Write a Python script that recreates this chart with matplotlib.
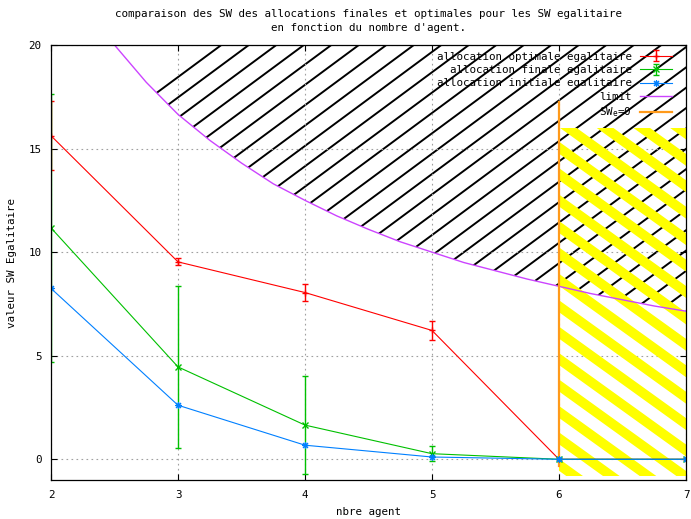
import matplotlib.pyplot as plt
from matplotlib.collections import LineCollection
from matplotlib.transforms import IdentityTransform

plt.rcParams['font.family'] = ['DejaVu Sans Mono']
plt.rcParams['font.size'] = 7.8
plt.rcParams['mathtext.default'] = 'regular'

# donnees
agents = [2, 3, 4, 5, 6, 7]
opt_sw = [15.62, 9.53, 8.05, 6.22, 0, 0]
opt_err = [1.67, 0.17, 0.39, 0.45, 0, 0]
fin_sw = [11.17, 4.46, 1.65, 0.27, 0, 0]
fin_err = [6.47, 3.9, 2.37, 0.37, 0, 0]
init_sw = [8.25, 2.61, 0.68, 0.11, 0, 0]

limit_x = [2.5, 2.75, 3, 3.25, 3.5, 3.75, 4, 4.25, 4.5, 4.75, 5,
           5.25, 5.5, 5.75, 6, 6.25, 6.5, 6.75, 7]
limit_y = [20, 18.2, 16.65, 15.4, 14.3, 13.3, 12.5, 11.75, 11.1, 10.5, 10.0,
           9.5, 9.1, 8.7, 8.35, 8.0, 7.7, 7.4, 7.15]
sw0_x = [6, 6]
sw0_y = [-0.3, 17.25]
zone_x = [6, 7]
zone_y = [-0.8, 16]


def hatch(ax, coll, x0, y0, slope, step, color, lw, z, kmin=-80):
    # lignes en pixels, decoupees par la zone remplie
    segs = []
    for k in range(kmin, 80):
        xa = x0 + k * step
        segs.append([(xa - 1000, y0 - slope * 1000), (xa + 1000, y0 + slope * 1000)])
    lc = LineCollection(segs, colors=color, linewidths=lw, transform=IdentityTransform(),
                        zorder=z)
    lc.set_clip_path(coll.get_paths()[0], coll.get_transform())
    ax.add_collection(lc, autolim=False)


fig = plt.figure(figsize=(6.91, 5.19), dpi=100)
ax = fig.add_axes([51 / 691, 39 / 519, 635 / 691, 435 / 519])
ax.set_xlim(2, 7)
ax.set_ylim(-1, 20)

black_zone = ax.fill_between(limit_x, limit_y, 20, facecolor='none', edgecolor='none')
yellow_zone = ax.fill_between(zone_x, zone_y[0], zone_y[1], facecolor='none', edgecolor='none')
hatch(ax, black_zone, 220, 519 - 46, 0.74, 27.5, 'black', 1.4, 1.5, kmin=0)
hatch(ax, yellow_zone, 567, 519 - 127, -0.72, 36.7, '#ffff00', 7.0, 1.6)

e1 = ax.errorbar(agents, opt_sw, yerr=opt_err, color='#ff0000', lw=0.8, elinewidth=1.0,
                 capsize=2.5, marker='+', ms=5, label='allocation optimale egalitaire', zorder=3)
e2 = ax.errorbar(agents, fin_sw, yerr=fin_err, color='#00c000', lw=0.8, elinewidth=1.0,
                 capsize=2.5, marker='x', ms=4, label='allocation finale egalitaire', zorder=3)
l3, = ax.plot(agents, init_sw, color='#0080ff', lw=0.8, marker=(8, 2, 0), ms=5, mew=0.8,
              label='allocation initiale egalitaire', zorder=3.2)
l4, = ax.plot(limit_x, limit_y, color='#cc44ff', lw=1.0, label='limit', zorder=2)
l5, = ax.plot(sw0_x, sw0_y, color='#ff9a1a', lw=1.6, label='SW$_e$=0', zorder=2.5)

ax.set_xticks(agents)
ax.set_yticks([0, 5, 10, 15, 20])
ax.tick_params(direction='in', top=True, right=True, length=4.5, pad=7)
ax.grid(True, color='#a0a0a0', linestyle=(0, (1.5, 3)), lw=0.8)
for s in ax.spines.values():
    s.set_linewidth(0.9)
    s.set_zorder(4)

ax.set_title("comparaison des SW des allocations finales et optimales pour les SW egalitaire\n"
             "en fonction du nombre d'agent.", fontsize=7.8, pad=10, linespacing=1.5)
ax.set_xlabel('nbre agent', labelpad=5)
ax.set_ylabel('valeur SW Egalitaire', labelpad=8)

ax.legend([e1, e2, l3, l4, l5], [h.get_label() for h in [e1, e2, l3, l4, l5]],
          loc='upper right', bbox_to_anchor=(0.978, 0.985), frameon=False, markerfirst=False,
          borderpad=0, borderaxespad=0, labelspacing=0.32, handlelength=3.0, handletextpad=0.7)

fig.savefig('out.png', dpi=100)
